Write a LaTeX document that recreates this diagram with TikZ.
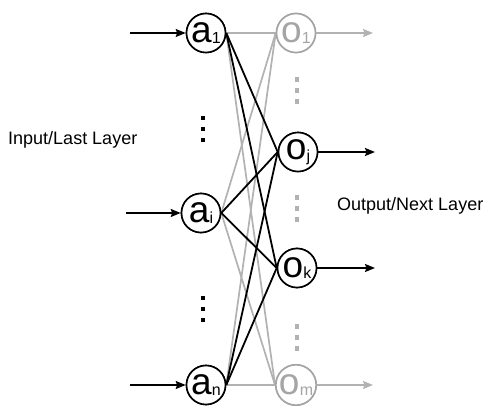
\documentclass[tikz,border=0pt]{standalone}
\usepackage{fontspec}
\setmainfont{Liberation Sans}
\usetikzlibrary{arrows.meta}
\definecolor{lg}{RGB}{178,178,178}
\definecolor{cg}{RGB}{165,165,165}
\newcommand\nlab[2]{{\fontsize{37}{37}\selectfont #1}\kern0.3pt\raisebox{-1.5pt}{\fontsize{16}{16}\selectfont #2}}
\begin{document}
\begin{tikzpicture}[x=1pt,y=-1pt,
  neuron/.style={circle,draw=black,line width=1.6pt,fill=white,minimum size=39pt,inner sep=0pt},
  gneuron/.style={circle,draw=cg,line width=1.6pt,fill=white,minimum size=39pt,inner sep=0pt,text=cg},
  blk/.style={black,line width=1.8pt},
  gry/.style={lg,line width=1.7pt},
  inarr/.style={black,line width=1.7pt,-{Stealth[length=10pt,width=8pt,inset=1.5pt]}},
  garr/.style={lg,line width=1.7pt,-{Stealth[length=10pt,width=8pt,inset=1.5pt]}},
  bdot/.style={fill=black,minimum width=4pt,minimum height=4.5pt,inner sep=0pt,draw=none,rectangle},
  gdot/.style={fill=lg,minimum width=4pt,minimum height=5pt,inner sep=0pt,draw=none,rectangle},
  lbl/.style={font=\fontsize{18}{18}\selectfont,anchor=west,inner sep=0pt}]
\useasboundingbox (0,0) rectangle (496,419);
% node positions
\node[neuron] (a1) at (206,33) {\nlab{a}{1}};
\node[neuron] (ai) at (201,213) {\nlab{a}{i}};
\node[neuron] (an) at (206,385) {\nlab{a}{n}};
\node[gneuron] (o1) at (296,33) {\nlab{o}{1}};
\node[neuron] (oj) at (298,152) {\nlab{o}{j}};
\node[neuron] (ok) at (297,268) {\nlab{o}{k}};
\node[gneuron] (om) at (296,385) {\nlab{o}{m}};
% gray connections
\draw[gry] (a1.east) -- (o1.west);
\draw[gry] (a1.east) -- (om.west);
\draw[gry] (ai.east) -- (o1.west);
\draw[gry] (ai.east) -- (om.west);
\draw[gry] (an.east) -- (o1.west);
\draw[gry] (an.east) -- (om.west);
% black connections
\draw[blk] (a1.east) -- (oj.west);
\draw[blk] (a1.east) -- (ok.west);
\draw[blk] (ai.east) -- (oj.west);
\draw[blk] (ai.east) -- (ok.west);
\draw[blk] (an.east) -- (oj.west);
\draw[blk] (an.east) -- (ok.west);
% redraw nodes on top of connections
\node[neuron] at (a1) {\nlab{a}{1}};
\node[neuron] at (ai) {\nlab{a}{i}};
\node[neuron] at (an) {\nlab{a}{n}};
\node[gneuron] at (o1) {\nlab{o}{1}};
\node[neuron] at (oj) {\nlab{o}{j}};
\node[neuron] at (ok) {\nlab{o}{k}};
\node[gneuron] at (om) {\nlab{o}{m}};
% input arrows
\coordinate (in1) at (130,33);
\coordinate (ini) at (126,213);
\coordinate (inn) at (130,385);
\draw[inarr] (in1) -- (a1.west);
\draw[inarr] (ini) -- (ai.west);
\draw[inarr] (inn) -- (an.west);
% output arrows
\coordinate (out1) at (373,33);
\coordinate (outj) at (375,152);
\coordinate (outk) at (375,268);
\coordinate (outm) at (373,385);
\draw[garr] (o1.east) -- (out1);
\draw[inarr] (oj.east) -- (outj);
\draw[inarr] (ok.east) -- (outk);
\draw[garr] (om.east) -- (outm);
% dots
\foreach \y [count=\c] in {118,129,140} \node[bdot] (bd1\c) at (203,\y) {};
\foreach \y [count=\c] in {298,309,320} \node[bdot] (bd2\c) at (203,\y) {};
\foreach \y [count=\c] in {80,91,102} \node[gdot] (gd1\c) at (297,\y) {};
\foreach \y [count=\c] in {198,209,220} \node[gdot] (gd2\c) at (297,\y) {};
\foreach \y [count=\c] in {327,338,349} \node[gdot] (gd3\c) at (297,\y) {};
% labels
\node[lbl] (inlab) at (8,140) {Input/Last Layer};
\node[lbl] (outlab) at (337,206) {Output/Next Layer};
\end{tikzpicture}
\end{document}
